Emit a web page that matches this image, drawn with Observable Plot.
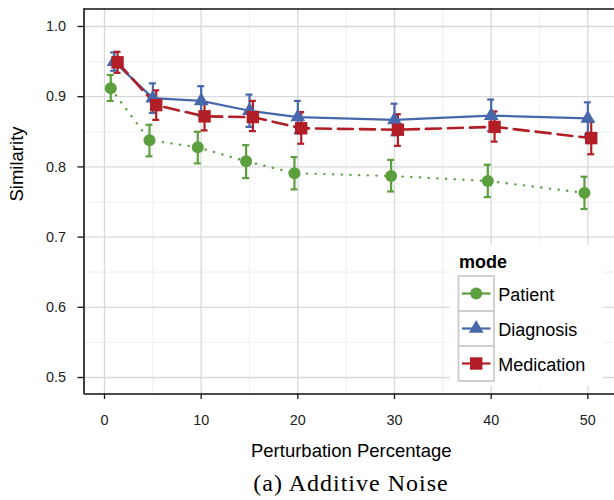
<!DOCTYPE html>
<html>
<head>
<meta charset="utf-8">
<script src="https://cdn.jsdelivr.net/npm/d3@7"></script>
<script src="https://cdn.jsdelivr.net/npm/@observablehq/plot@0.6"></script>
<style>
  html, body { margin: 0; padding: 0; background: #fff; }
  #wrap { position: relative; width: 614px; height: 500px; overflow: hidden; font-family: "Liberation Sans", Arial, sans-serif; }
  #caption { position: absolute; left: 0; width: 702px; top: 471px; text-align: center; line-height: 1;
             font-family: "Liberation Serif", "Times New Roman", serif; font-size: 24px; letter-spacing: 1px; color: #000; }
  #legend { position: absolute; left: 450px; top: 245px; }
</style>
</head>
<body>
<div id="wrap">
  <div id="chart"></div>
  <div id="legend"></div>
  <div id="caption">(a) Additive Noise</div>
</div>
<script>
// ---- data ----
const percentages = [1, 5, 10, 15, 20, 30, 40, 50];
const modes = ["Patient", "Diagnosis", "Medication"];

const patientMean = [0.912, 0.838, 0.828, 0.808, 0.791, 0.787, 0.780, 0.763];
const patientLow  = [0.894, 0.815, 0.805, 0.784, 0.768, 0.765, 0.757, 0.740];
const patientHigh = [0.931, 0.860, 0.850, 0.831, 0.814, 0.810, 0.803, 0.786];

const diagnosisMean = [0.950, 0.898, 0.894, 0.880, 0.871, 0.867, 0.873, 0.869];
const diagnosisLow  = [0.937, 0.877, 0.873, 0.857, 0.848, 0.845, 0.851, 0.846];
const diagnosisHigh = [0.963, 0.919, 0.915, 0.903, 0.894, 0.890, 0.896, 0.892];

const medicationMean = [0.949, 0.888, 0.872, 0.871, 0.855, 0.853, 0.857, 0.841];
const medicationLow  = [0.934, 0.867, 0.852, 0.851, 0.833, 0.830, 0.836, 0.818];
const medicationHigh = [0.964, 0.909, 0.891, 0.894, 0.878, 0.875, 0.879, 0.864];

const xTicks = [0, 10, 20, 30, 40, 50];
const xMinor = [5, 15, 25, 35, 45];
const yTicks = [0.5, 0.6, 0.7, 0.8, 0.9, 1.0];
const yMinor = [0.55, 0.65, 0.75, 0.85, 0.95];

const xTitle = "Perturbation Percentage";
const yTitle = "Similarity";

// ---- styling ----
const colors = {Patient: "#5c9f3e", Diagnosis: "#4767ab", Medication: "#b11e26"};
const symbols = {Patient: "circle", Diagnosis: "triangle", Medication: "square"};
const radii = {Patient: 6.0, Diagnosis: 5.5, Medication: 7.0};
const dodge = {Patient: -0.35, Diagnosis: 0, Medication: 0.35};
const lineStyle = {
  Patient: {strokeWidth: 2.4, strokeDasharray: "0.1,8.6", strokeLinecap: "round"},
  Diagnosis: {strokeWidth: 2.2},
  Medication: {strokeWidth: 2.6, strokeDasharray: "15,7"}
};

const series = {
  Patient: [patientMean, patientLow, patientHigh],
  Diagnosis: [diagnosisMean, diagnosisLow, diagnosisHigh],
  Medication: [medicationMean, medicationLow, medicationHigh]
};
const rows = [];
for (const m of modes) {
  const [mean, lo, hi] = series[m];
  percentages.forEach((p, i) => rows.push({mode: m, x: p, mean: mean[i], lo: lo[i], hi: hi[i]}));
}
const xd = d => d.x + dodge[d.mode];
const capHalf = 0.36;

const xDomain = [-2.1207, 52.757];
const yDomain = [0.4765, 1.02493];

const marks = [
  Plot.ruleX(xMinor, {stroke: "#f1f1f1", strokeWidth: 1.2}),
  Plot.ruleY(yMinor, {stroke: "#f1f1f1", strokeWidth: 1.2}),
  Plot.ruleX(xTicks, {stroke: "#d9d9d9", strokeWidth: 1.3}),
  Plot.ruleY(yTicks, {stroke: "#d9d9d9", strokeWidth: 1.3}),
];
for (const m of modes) {
  marks.push(Plot.line(rows.filter(d => d.mode === m), {x: xd, y: "mean", stroke: colors[m], ...lineStyle[m]}));
}
for (const m of modes) {
  const sub = rows.filter(d => d.mode === m);
  marks.push(Plot.ruleX(sub, {x: xd, y1: "lo", y2: "hi", stroke: colors[m], strokeWidth: 2.2}));
  marks.push(Plot.ruleY(sub, {y: "lo", x1: d => xd(d) - capHalf, x2: d => xd(d) + capHalf, stroke: colors[m], strokeWidth: 2.2}));
  marks.push(Plot.ruleY(sub, {y: "hi", x1: d => xd(d) - capHalf, x2: d => xd(d) + capHalf, stroke: colors[m], strokeWidth: 2.2}));
}
for (const m of modes) {
  marks.push(Plot.dot(rows.filter(d => d.mode === m), {x: xd, y: "mean", symbol: () => symbols[m], r: radii[m], fill: colors[m], stroke: "none"}));
}
marks.push(
  Plot.ruleX([xDomain[0]], {stroke: "#111", strokeWidth: 1.6}),
  Plot.ruleY(yDomain, {stroke: "#111", strokeWidth: 1.6}),
  Plot.axisX({ticks: xTicks, tickFormat: d3.format("d"), tickSize: 5.5, tickPadding: 15, label: null, stroke: "#111", strokeWidth: 1.3, fill: "#222", fontSize: 14.4}),
  Plot.axisY({ticks: yTicks, tickFormat: d3.format(".1f"), tickSize: 6, tickPadding: 12, label: null, stroke: "#111", strokeWidth: 1.3, fill: "#222", fontSize: 14.4}),
  Plot.text([xTitle], {frameAnchor: "bottom", lineAnchor: "bottom", dy: 63, dx: 2, fill: "#000", fontSize: 18.5}),
  Plot.text([yTitle], {frameAnchor: "left", rotate: -90, dx: -67, dy: 0, fill: "#000", fontSize: 18.5})
);

const chart = Plot.plot({
  width: 614,
  height: 465,
  marginLeft: 83.5,
  marginRight: 0,
  marginTop: 8.5,
  marginBottom: 71.5,
  x: {domain: xDomain},
  y: {domain: yDomain},
  style: {fontFamily: "'Liberation Sans', Arial, sans-serif", background: "white", overflow: "visible"},
  marks
});
document.getElementById("chart").append(chart);

// ---- legend ----
const lw = 153, lh = 141;
const lsvg = d3.create("svg").attr("width", lw).attr("height", lh)
  .style("font-family", "'Liberation Sans', Arial, sans-serif");
lsvg.append("rect").attr("width", lw).attr("height", lh).attr("fill", "white");
lsvg.append("text").attr("x", 9).attr("y", 22.7).attr("font-size", 18).attr("font-weight", "bold").text("mode");
modes.forEach((m, i) => {
  const y0 = 31 + i * 35;
  const cy = y0 + 17.5;
  lsvg.append("rect").attr("x", 8.5).attr("y", y0).attr("width", 35.5).attr("height", 35)
    .attr("fill", "white").attr("stroke", "#cccccc").attr("stroke-width", 1.8);
  lsvg.append("line").attr("x1", 12).attr("x2", 40.5).attr("y1", cy).attr("y2", cy)
    .attr("stroke", colors[m]).attr("stroke-width", 2.2);
  const symType = {circle: d3.symbolCircle, triangle: d3.symbolTriangle, square: d3.symbolSquare}[symbols[m]];
  lsvg.append("path").attr("transform", `translate(26.2,${cy})`)
    .attr("d", d3.symbol(symType, Math.PI * radii[m] * radii[m])())
    .attr("fill", colors[m]);
  lsvg.append("text").attr("x", 48.3).attr("y", cy + 7.2).attr("font-size", 18).attr("fill", "#000").text(m);
});
document.getElementById("legend").append(lsvg.node());
</script>
</body>
</html>
